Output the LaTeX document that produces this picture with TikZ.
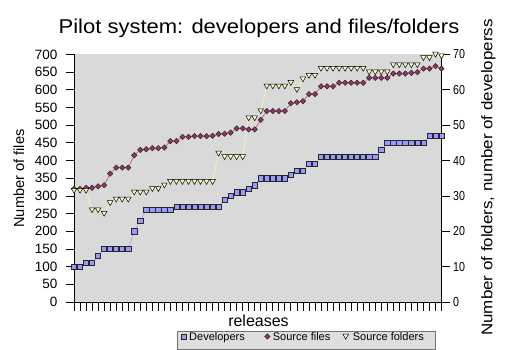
\documentclass[tikz,border=0pt]{standalone}
\usepackage{fontspec}
\setmainfont{Liberation Sans}
\usetikzlibrary{shapes.geometric}

\definecolor{plotbg}{RGB}{217,217,217}
\definecolor{legbg}{RGB}{222,222,222}
\definecolor{devfill}{RGB}{153,153,255}
\definecolor{devln}{RGB}{165,165,255}
\definecolor{filefill}{RGB}{153,51,102}
\definecolor{fileln}{RGB}{190,80,135}
\definecolor{foldfill}{RGB}{255,255,204}
\definecolor{foldln}{RGB}{250,250,185}

\begin{document}
\begin{tikzpicture}[x=1pt,y=1pt,
  axisline/.style={black,line width=0.9pt},
  tickline/.style={black,line width=0.8pt},
  ticklab/.style={inner sep=0pt,font=\fontsize{13.5}{16}\selectfont},
  devmark/.style={rectangle,draw=black!85,line width=0.6pt,fill=devfill,minimum size=5.2pt,inner sep=0pt},
  filemark/.style={diamond,draw=black!85,line width=0.5pt,fill=filefill,minimum size=5.6pt,inner sep=0pt},
  devpath/.style={devln,line width=0.6pt},
  filepath/.style={fileln,line width=0.6pt},
  foldpath/.style={foldln,line width=0.6pt},
  foldtri/.pic={\draw[black,line width=0.5pt,fill=foldfill] (-2.8,2.3) -- (2.8,2.3) -- (0,-2.6) -- cycle;},
  legtext/.style={anchor=base west,inner sep=0pt,font=\fontsize{11}{13}\selectfont}
]
\useasboundingbox (0,0) rectangle (505,350);

% plot area
\fill[plotbg] (74,48) rectangle (441.5,295.5);

% axes
\draw[axisline] (74,48) -- (74,295.5);
\draw[axisline] (74,48) -- (441.5,48);
\draw[axisline] (441.5,48) -- (441.5,295.5);

% left axis: number of files
\foreach \k in {0,...,14}{
  \pgfmathsetmacro\yy{48+\k*17.67857}
  \pgfmathtruncatemacro\lab{50*\k}
  \draw[tickline] (66,\yy) -- (74,\yy);
  \node[ticklab,anchor=east] (yl\k) at (57.5,\yy) {\lab};
}

% right axis: folders and developers
\foreach \k in {0,...,7}{
  \pgfmathsetmacro\yy{48+\k*35.35714}
  \pgfmathtruncatemacro\lab{10*\k}
  \draw[tickline] (441.5,\yy) -- (450,\yy);
  \node[ticklab,anchor=west] (yr\k) at (453,\yy) {\scalebox{0.82}[1]{\fontsize{13}{16}\selectfont\lab}};
}

% release ticks
\foreach \i in {0,...,61}{
  \draw[tickline] ({74+\i*6.0246},48) -- ({74+\i*6.0246},39);
}

% data points
\foreach \v [count=\i from 0] in {
  10,10,11,11,13,15,15,15,15,15,
  20,23,26,26,26,26,26,27,27,27,
  27,27,27,27,27,29,30,31,31,32,
  33,35,35,35,35,35,36,37,37,39,
  39,41,41,41,41,41,41,41,41,41,
  41,43,45,45,45,45,45,45,45,47,
  47,47}{
  \coordinate (d\i) at ({74+\i*6.0246},{48+\v*3.535714});
}
\foreach \v [count=\i from 0] in {
  320,320,323,323,327,330,363,380,380,380,
  415,430,432,435,435,437,455,455,467,467,
  469,469,469,470,475,476,479,491,491,488,
  488,515,540,540,540,540,562,565,568,588,
  588,610,610,610,620,620,620,620,620,634,
  634,634,634,646,646,646,648,650,660,660,
  667,660}{
  \coordinate (s\i) at ({74+\i*6.0246},{48+\v*0.3535714});
}
\foreach \v [count=\i from 0] in {
  31.5,31.5,31.5,26,26,25,28,29,29,29,
  31,31,31,32,32,33,34,34,34,34,
  34,34,34,34,42,41,41,41,41,52,
  52,54,61,61,61,61,62,60,63,64,
  64,66,66,66,66,66,66,66,66,65,
  65,65,65,67,67,67,67,67,69,69,
  70,69.5}{
  \coordinate (f\i) at ({74+\i*6.0246},{48+\v*3.535714});
}

% series lines
\draw[devpath] (d0) \foreach \i in {1,...,61}{ -- (d\i) };
\draw[filepath] (s0) \foreach \i in {1,...,61}{ -- (s\i) };
\draw[foldpath] (f0) \foreach \i in {1,...,61}{ -- (f\i) };

% series markers
\foreach \i in {0,...,61}{ \node[devmark] (dm\i) at (d\i) {}; }
\foreach \i in {0,...,61}{ \node[filemark] (sm\i) at (s\i) {}; }
\foreach \i in {0,...,61}{ \pic at (f\i) {foldtri}; }

% titles
\node[anchor=base,inner sep=0pt] (title) at (259,316.3)
  {\scalebox{1.1}[1]{\fontsize{20}{24}\selectfont Pilot system: developers and files/folders}};
\node[rotate=90,inner sep=0pt] (ylab) at (19,171.5)
  {\fontsize{14.6}{18}\selectfont Number of files};
\node[rotate=90,inner sep=0pt] (y2lab) at (488.5,172.5)
  {\scalebox{1.1}[1]{\fontsize{15.4}{18}\selectfont Number of folders, number of developerss}};
\node[anchor=base,inner sep=0pt] (xlab) at (258.5,23.7) {\fontsize{16}{19}\selectfont releases};

% legend
\draw[fill=legbg,draw=black!55,line width=0.8pt] (177,1) rectangle (435,18.3);
\node[devmark] (lg1) at (183.5,13.5) {};
\node[legtext] (lt1) at (189,9.3) {Developers};
\node[filemark] (lg2) at (267.3,13.5) {};
\node[legtext] (lt2) at (272.7,9.3) {Source files};
\pic at (345.7,13.5) {foldtri};
\node[legtext] (lt3) at (352.7,9.3) {Source folders};
\end{tikzpicture}
\end{document}
